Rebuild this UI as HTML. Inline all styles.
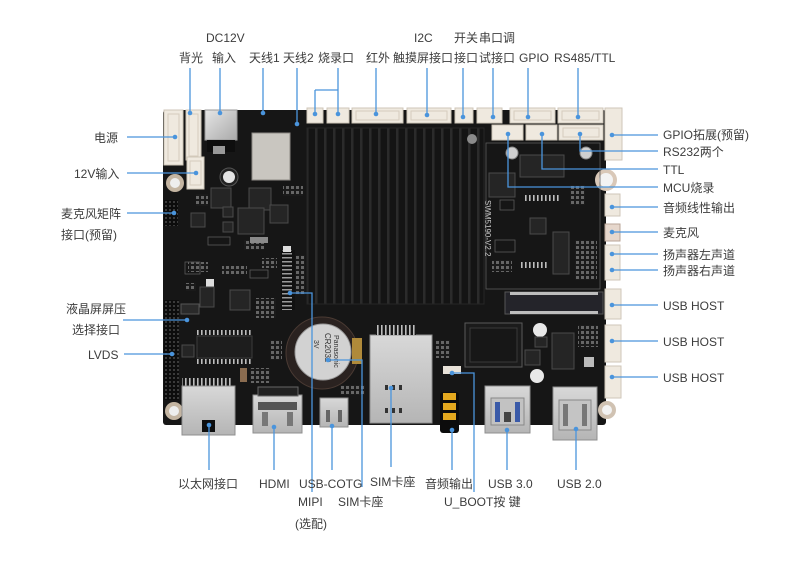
<!DOCTYPE html>
<html><head><meta charset="utf-8"><style>
html,body{margin:0;padding:0;background:#fff;}
svg{display:block}
text{font-family:"Liberation Sans","Noto Sans CJK SC",sans-serif;font-size:12px;fill:#3c3c3c;}
.s{font-size:7px;fill:#bbb;}
.ln{stroke:#4a94dc;stroke-width:1.3;fill:none;}
.dt{fill:#4a94dc;}
.cn{fill:#efe9df;stroke:#cfc6b8;stroke-width:1;}
.ci{fill:none;stroke:#d5ccbd;stroke-width:1;}
.chip{fill:#252525;stroke:#4a4a4a;stroke-width:1;}
.pad{fill:#8a8a8a;}
.pd{fill:#5e5e5e;}
.silk{fill:none;stroke:#5a5a5a;stroke-width:0.8;}
</style></head><body>
<svg width="804" height="578" viewBox="0 0 804 578" xmlns="http://www.w3.org/2000/svg">
<defs>
<pattern id="fins" width="9" height="10" patternUnits="userSpaceOnUse"><rect width="9" height="10" fill="#141414"/><rect x="0" width="2.5" height="10" fill="#2b2b2b"/></pattern>
<pattern id="pins" width="4" height="4" patternUnits="userSpaceOnUse"><rect width="4" height="4" fill="#0c0c0c"/><rect x="1" y="1" width="2" height="2" fill="#3a3a3a"/></pattern>
<pattern id="fpc" width="14" height="4" patternUnits="userSpaceOnUse"><rect width="14" height="4" fill="#111"/><rect x="2" y="1" width="10" height="1.5" fill="#9a9a9a"/></pattern>
<pattern id="hpin" width="4" height="6" patternUnits="userSpaceOnUse"><rect width="4" height="6" fill="#161616"/><rect x="1" y="0" width="1.6" height="6" fill="#bdbdbd"/></pattern>
<pattern id="pads" width="5" height="5" patternUnits="userSpaceOnUse"><rect width="5" height="5" fill="#1a1a1a"/><rect x="1" y="1" width="3" height="3" fill="#666"/></pattern>
<linearGradient id="metal" x1="0" y1="0" x2="1" y2="1"><stop offset="0" stop-color="#e6e6e6"/><stop offset="1" stop-color="#a9a9a9"/></linearGradient>
<linearGradient id="metal2" x1="0" y1="0" x2="0" y2="1"><stop offset="0" stop-color="#d8d8d8"/><stop offset="1" stop-color="#b5b5b5"/></linearGradient>
</defs>

<!-- Board -->
<rect x="163" y="110" width="443" height="315" rx="3" fill="#161616"/>

<!-- Heatsink -->
<rect x="307" y="128" width="177" height="176" fill="url(#fins)"/>
<rect x="307" y="128" width="177" height="176" fill="none" stroke="#262626"/>
<circle cx="472" cy="139" r="5" fill="#8a8a8a"/>
<text class="s" transform="translate(485,200) rotate(90)" style="font-size:8px;fill:#cfcfcf">SWM5190-V2.2</text>

<!-- top connectors -->
<rect class="cn" x="164" y="110" width="19" height="55"/>
<rect class="ci" x="168" y="114" width="11" height="47"/>
<rect class="cn" x="186" y="110" width="15" height="50"/>
<rect class="ci" x="189" y="114" width="9" height="42"/>
<rect x="205" y="110" width="32" height="30" fill="url(#metal)" stroke="#999"/>
<rect x="207" y="140" width="28" height="12" fill="#0e0e0e"/>
<rect class="cn" x="187" y="157" width="17" height="32"/>
<rect class="ci" x="190" y="161" width="11" height="24"/>
<rect class="cn" x="307" y="108" width="16" height="15"/>
<rect class="cn" x="327" y="108" width="22" height="15"/>
<rect class="cn" x="352" y="108" width="51" height="15"/>
<rect class="ci" x="356" y="111" width="43" height="9"/>
<rect class="cn" x="407" y="108" width="44" height="15"/>
<rect class="ci" x="411" y="111" width="36" height="9"/>
<rect class="cn" x="455" y="108" width="18" height="15"/>
<rect class="cn" x="477" y="108" width="25" height="15"/>
<rect class="cn" x="510" y="108" width="45" height="15"/>
<rect class="ci" x="514" y="111" width="37" height="9"/>
<rect class="cn" x="558" y="108" width="45" height="15"/>
<rect class="ci" x="562" y="111" width="37" height="9"/>
<rect class="cn" x="492" y="125" width="31" height="15"/>
<rect class="cn" x="526" y="125" width="31" height="15"/>
<rect class="cn" x="559" y="125" width="44" height="15"/>
<rect class="ci" x="563" y="128" width="36" height="9"/>

<!-- right connectors -->
<rect class="cn" x="605" y="108" width="17" height="52"/>
<rect class="cn" x="605" y="194" width="15" height="22"/>
<rect x="605" y="224" width="15" height="17" fill="#e6d7cc" stroke="#b9a597"/>
<rect class="cn" x="605" y="245" width="15" height="35"/>
<rect class="cn" x="605" y="289" width="16" height="30"/>
<rect class="cn" x="605" y="325" width="16" height="37"/>
<rect class="cn" x="605" y="366" width="16" height="32"/>

<!-- mounting holes -->
<circle cx="175" cy="183" r="9" fill="#c4b5a2"/><circle cx="175" cy="183" r="5" fill="#eee"/>
<circle cx="174" cy="411" r="9" fill="#c4b5a2"/><circle cx="174" cy="411" r="5" fill="#eee"/>
<circle cx="607" cy="410" r="9" fill="#d0c2b2"/><circle cx="607" cy="410" r="5" fill="#f2f2f2"/>
<circle cx="512" cy="153" r="6" fill="#cfcfcf" stroke="#888"/>
<circle cx="586" cy="153" r="6" fill="#cfcfcf" stroke="#888"/>
<circle cx="606" cy="180" r="11" fill="#d9c8b8"/><circle cx="606" cy="180" r="7" fill="#f3f3f3"/>

<!-- left-mid components -->
<rect x="252" y="133" width="38" height="47" fill="#c9c6c0" stroke="#8d8a85"/>
<rect x="213" y="146" width="12" height="8" fill="#999"/>
<circle cx="229" cy="177" r="9" fill="#222" stroke="#555"/><circle cx="229" cy="177" r="6" fill="#e4e4e4"/>
<rect class="chip" x="211" y="188" width="20" height="20"/>
<rect class="chip" x="249" y="188" width="22" height="22"/>
<rect class="chip" x="270" y="205" width="18" height="18"/>
<rect class="chip" x="238" y="208" width="26" height="26" fill="#1e1e1e"/>
<rect class="chip" x="191" y="213" width="14" height="14"/>
<rect class="chip" x="223" y="207" width="10" height="10"/>
<rect class="chip" x="223" y="222" width="10" height="10"/>
<rect class="silk" x="208" y="237" width="22" height="8"/>
<rect x="283" y="186" width="20" height="10" fill="url(#pads)"/>
<rect x="196" y="194" width="12" height="12" fill="url(#pads)"/>
<rect x="244" y="240" width="20" height="10" fill="url(#pads)"/>
<rect x="188" y="262" width="20" height="10" fill="url(#pads)"/>
<rect x="222" y="266" width="25" height="8" fill="url(#pads)"/>
<rect x="186" y="283" width="10" height="8" fill="url(#pads)"/>
<rect x="262" y="258" width="15" height="10" fill="url(#pads)"/>
<rect x="164" y="200" width="14" height="26" fill="url(#pins)"/>
<rect x="281" y="250" width="14" height="60" fill="url(#fpc)"/>
<rect x="283" y="246" width="8" height="6" fill="#ddd"/>
<rect x="296" y="255" width="9" height="40" fill="url(#pads)"/>
<rect x="206" y="279" width="8" height="8" fill="#ddd"/>
<rect class="chip" x="200" y="287" width="14" height="20"/>
<rect class="chip" x="230" y="290" width="20" height="20"/>
<rect class="silk" x="250" y="270" width="18" height="8"/>
<rect class="silk" x="185" y="262" width="15" height="12"/>
<rect class="pad" x="250" y="237" width="18" height="6"/>
<rect x="256" y="298" width="20" height="20" fill="url(#pads)"/>

<!-- lower-left -->
<rect x="164" y="300" width="15" height="100" fill="url(#pins)"/>
<rect x="181" y="304" width="18" height="10" fill="#2a2a2a" stroke="#555"/>
<rect x="197" y="330" width="55" height="5" fill="url(#hpin)"/>
<rect x="197" y="336" width="55" height="22" fill="#1d1d1d" stroke="#3c3c3c"/>
<rect x="197" y="359" width="55" height="5" fill="url(#hpin)"/>
<rect class="chip" x="182" y="345" width="12" height="12"/>
<rect x="182" y="378" width="50" height="8" fill="url(#hpin)"/>
<rect x="240" y="368" width="7" height="14" fill="#8a6c50"/>
<rect x="250" y="368" width="20" height="15" fill="url(#pads)"/>
<rect x="270" y="340" width="12" height="20" fill="url(#pads)"/>

<!-- RJ45 -->
<rect x="182" y="386" width="53" height="49" fill="url(#metal2)" stroke="#8f8f8f"/>
<rect x="202" y="420" width="13" height="12" fill="#0e0e0e"/>

<!-- HDMI -->
<rect x="253" y="395" width="49" height="38" fill="url(#metal2)" stroke="#8f8f8f"/>
<rect x="258" y="402" width="39" height="8" fill="#555"/>
<rect x="262" y="412" width="6" height="14" fill="#777"/><rect x="287" y="412" width="6" height="14" fill="#777"/>
<rect x="258" y="387" width="40" height="9" fill="#222" stroke="#666"/>

<!-- USB-C -->
<rect x="320" y="398" width="28" height="29" fill="url(#metal2)" stroke="#8f8f8f"/>
<rect x="326" y="410" width="4" height="12" fill="#666"/><rect x="338" y="410" width="4" height="12" fill="#666"/>
<rect x="340" y="385" width="25" height="10" fill="url(#pads)"/>

<!-- battery -->
<circle cx="322" cy="353" r="36" fill="#2a2220" stroke="#4a3a33"/>
<circle cx="323" cy="352" r="28" fill="#d2d2d2" stroke="#9a9a9a"/>
<text transform="translate(334,335) rotate(90)" style="font-size:7px;fill:#333">Panasonic</text>
<text transform="translate(325,333) rotate(90)" style="font-size:8px;fill:#333">CR2032</text>
<text transform="translate(314,340) rotate(90)" style="font-size:7px;fill:#333">3V</text>
<rect x="352" y="338" width="10" height="26" fill="#b08a3a"/>

<!-- SIM -->
<rect x="370" y="335" width="62" height="88" fill="url(#metal2)" stroke="#8f8f8f"/>
<rect x="376" y="325" width="40" height="10" fill="url(#hpin)"/>
<rect x="385" y="385" width="3" height="5" fill="#333"/><rect x="392" y="385" width="3" height="5" fill="#333"/><rect x="399" y="385" width="3" height="5" fill="#333"/>
<rect x="385" y="408" width="3" height="5" fill="#333"/><rect x="392" y="408" width="3" height="5" fill="#333"/><rect x="399" y="408" width="3" height="5" fill="#333"/>

<!-- audio jack -->
<rect x="440" y="392" width="19" height="41" rx="3" fill="#0c0c0c"/>
<rect x="443" y="393" width="13" height="7" fill="#e3a81f"/>
<rect x="443" y="403" width="13" height="7" fill="#e3a81f"/>
<rect x="443" y="413" width="13" height="7" fill="#e3a81f"/>
<rect x="443" y="366" width="18" height="8" fill="#e8e2d8"/>
<rect x="436" y="340" width="14" height="18" fill="url(#pads)"/>

<!-- right daughter area -->
<rect class="silk" x="486" y="143" width="114" height="146"/>
<rect class="chip" x="520" y="155" width="44" height="22"/>
<rect class="chip" x="489" y="173" width="26" height="24"/>
<rect class="chip" x="530" y="218" width="16" height="16"/>
<rect class="chip" x="553" y="232" width="16" height="42"/>
<rect x="525" y="195" width="35" height="6" fill="url(#hpin)"/>
<rect x="520" y="262" width="28" height="6" fill="url(#hpin)"/>
<rect class="silk" x="495" y="240" width="20" height="12"/>
<rect class="silk" x="500" y="200" width="14" height="10"/>
<rect x="570" y="185" width="15" height="20" fill="url(#pads)"/>
<rect x="575" y="240" width="22" height="40" fill="url(#pads)"/>
<rect x="492" y="260" width="20" height="12" fill="url(#pads)"/>
<rect x="505" y="292" width="98" height="22" fill="#24242a" stroke="#555"/>
<rect x="510" y="292" width="88" height="3" fill="#bdbdbd"/>
<rect x="510" y="311" width="88" height="3" fill="#bdbdbd"/>

<!-- lower right -->
<rect x="465" y="323" width="57" height="44" fill="#1b1b1b" stroke="#5a5a5a"/>
<rect x="470" y="328" width="47" height="34" fill="#171717" stroke="#3a3a3a"/>
<rect class="chip" x="552" y="333" width="22" height="36"/>
<rect class="chip" x="525" y="350" width="15" height="15"/>
<circle cx="540" cy="330" r="7" fill="#e8e8e8"/>
<circle cx="537" cy="376" r="7" fill="#e8e8e8"/>
<rect x="584" y="357" width="10" height="10" fill="#bbb"/>
<rect class="chip" x="535" y="337" width="12" height="10"/>
<rect x="578" y="325" width="20" height="22" fill="url(#pads)"/>

<!-- USB 3 -->
<rect x="485" y="386" width="45" height="47" fill="url(#metal2)" stroke="#8f8f8f"/>
<rect x="491" y="398" width="33" height="27" fill="#c2c2c2" stroke="#888"/>
<rect x="495" y="402" width="5" height="20" fill="#3a5aa8"/><rect x="515" y="402" width="5" height="20" fill="#3a5aa8"/>
<rect x="504" y="412" width="7" height="10" fill="#444"/>
<!-- USB 2 -->
<rect x="553" y="387" width="44" height="53" fill="url(#metal2)" stroke="#8f8f8f"/>
<rect x="559" y="400" width="32" height="30" fill="#c4c4c4" stroke="#888"/>
<rect x="563" y="404" width="5" height="22" fill="#777"/><rect x="582" y="404" width="5" height="22" fill="#777"/>

<!-- leader lines: top -->
<path class="ln" d="M190 68V113 M220 68V113 M263 68V113 M297 68V124 M338 68V114 M315 90H338 M315 90V114 M376 68V114 M427 68V115 M463 68V117 M493 68V117 M528 68V117 M578 68V117"/>
<circle class="dt" cx="190" cy="113" r="2.3"/><circle class="dt" cx="220" cy="113" r="2.3"/><circle class="dt" cx="263" cy="113" r="2.3"/><circle class="dt" cx="297" cy="124" r="2.3"/><circle class="dt" cx="315" cy="114" r="2.3"/><circle class="dt" cx="338" cy="114" r="2.3"/><circle class="dt" cx="376" cy="114" r="2.3"/><circle class="dt" cx="427" cy="115" r="2.3"/><circle class="dt" cx="463" cy="117" r="2.3"/><circle class="dt" cx="493" cy="117" r="2.3"/><circle class="dt" cx="528" cy="117" r="2.3"/><circle class="dt" cx="578" cy="117" r="2.3"/>

<!-- right -->
<path class="ln" d="M612 135H658 M580 134V151H658 M542 134V169H658 M508 134V187H658 M612 207H658 M612 232H658 M612 254H658 M612 270H658 M612 305H658 M612 341H658 M612 377H658"/>
<circle class="dt" cx="612" cy="135" r="2.3"/><circle class="dt" cx="580" cy="134" r="2.3"/><circle class="dt" cx="542" cy="134" r="2.3"/><circle class="dt" cx="508" cy="134" r="2.3"/><circle class="dt" cx="612" cy="207" r="2.3"/><circle class="dt" cx="612" cy="232" r="2.3"/><circle class="dt" cx="612" cy="254" r="2.3"/><circle class="dt" cx="612" cy="270" r="2.3"/><circle class="dt" cx="612" cy="305" r="2.3"/><circle class="dt" cx="612" cy="341" r="2.3"/><circle class="dt" cx="612" cy="377" r="2.3"/>

<!-- left -->
<path class="ln" d="M127 137H175 M127 173H196 M127 213H174 M123 320H187 M124 354H172"/>
<circle class="dt" cx="175" cy="137" r="2.3"/><circle class="dt" cx="196" cy="173" r="2.3"/><circle class="dt" cx="174" cy="213" r="2.3"/><circle class="dt" cx="187" cy="320" r="2.3"/><circle class="dt" cx="172" cy="354" r="2.3"/>

<!-- bottom -->
<path class="ln" d="M209 425V470 M274 427V470 M332 426V470 M290 293H312V492 M328 360H362V487 M391 388V467 M452 430V470 M452 373H474V492 M507 430V470 M576 429V470"/>
<circle class="dt" cx="209" cy="425" r="2.3"/><circle class="dt" cx="274" cy="427" r="2.3"/><circle class="dt" cx="332" cy="426" r="2.3"/><circle class="dt" cx="290" cy="293" r="2.3"/><circle class="dt" cx="328" cy="360" r="2.3"/><circle class="dt" cx="391" cy="388" r="2.3"/><circle class="dt" cx="452" cy="430" r="2.3"/><circle class="dt" cx="452" cy="373" r="2.3"/><circle class="dt" cx="507" cy="430" r="2.3"/><circle class="dt" cx="576" cy="429" r="2.3"/>

<!-- labels top -->
<text x="206" y="42">DC12V</text>
<text x="414" y="42">I2C</text>
<text x="454" y="42">开关</text>
<text x="479" y="42">串口调</text>
<text x="179" y="62">背光</text>
<text x="212" y="62">输入</text>
<text x="249" y="62">天线1</text>
<text x="283" y="62">天线2</text>
<text x="318" y="62">烧录口</text>
<text x="366" y="62">红外</text>
<text x="393" y="62">触摸屏接口</text>
<text x="454" y="62">接口</text>
<text x="479" y="62">试接口</text>
<text x="519" y="62">GPIO</text>
<text x="554" y="62">RS485/TTL</text>

<!-- labels right -->
<text x="663" y="139">GPIO拓展(预留)</text>
<text x="663" y="156">RS232两个</text>
<text x="663" y="174">TTL</text>
<text x="663" y="192">MCU烧录</text>
<text x="663" y="212">音频线性输出</text>
<text x="663" y="237">麦克风</text>
<text x="663" y="259">扬声器左声道</text>
<text x="663" y="275">扬声器右声道</text>
<text x="663" y="310">USB HOST</text>
<text x="663" y="346">USB HOST</text>
<text x="663" y="382">USB HOST</text>

<!-- labels left -->
<text x="94" y="142">电源</text>
<text x="74" y="178">12V输入</text>
<text x="61" y="218">麦克风矩阵</text>
<text x="61" y="239">接口(预留)</text>
<text x="66" y="313">液晶屏屏压</text>
<text x="72" y="334">选择接口</text>
<text x="88" y="359">LVDS</text>

<!-- labels bottom -->
<text x="178" y="488">以太网接口</text>
<text x="259" y="488">HDMI</text>
<text x="299" y="488">USB-COTG</text>
<text x="370" y="486">SIM卡座</text>
<text x="425" y="488">音频输出</text>
<text x="488" y="488">USB 3.0</text>
<text x="557" y="488">USB 2.0</text>
<text x="298" y="506">MIPI</text>
<text x="338" y="506">SIM卡座</text>
<text x="444" y="506">U_BOOT按 键</text>
<text x="295" y="528">(选配)</text>
</svg>
</body></html>
